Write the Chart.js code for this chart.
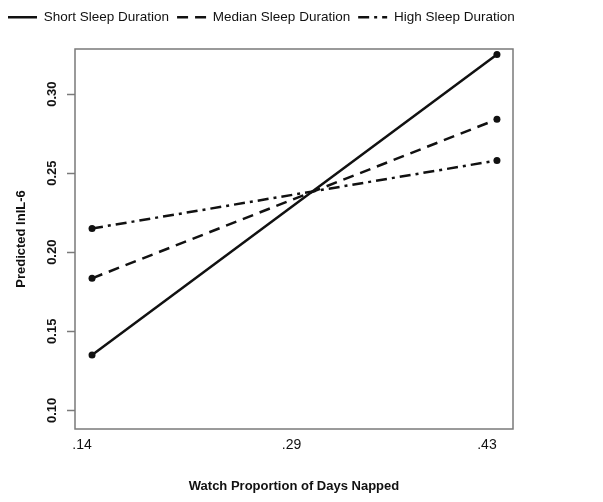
<!DOCTYPE html>
<html>
<head>
<meta charset="utf-8">
<script src="https://cdn.jsdelivr.net/npm/chart.js@4"></script>
<style>
  html, body { margin: 0; padding: 0; background: #fff; }
  #wrap { width: 603px; height: 502px; position: relative; }
</style>
</head>
<body>
<div id="wrap"><canvas id="chart"></canvas></div>
<script>
// values
const xValues = [0.14, 0.43];
const shortSleep = [0.135, 0.325];
const medianSleep = [0.1835, 0.284];
const highSleep = [0.215, 0.258];
const seriesNames = ['Short Sleep Duration', 'Median Sleep Duration', 'High Sleep Duration'];
const xTicks = [0.14, 0.29, 0.43];
const xTickLabels = ['.14', '.29', '.43'];
const yTicks = [0.10, 0.15, 0.20, 0.25, 0.30];

const FONT = '"Liberation Sans", Arial, sans-serif';
const INK = '#111';
const FRAME = '#7a7a7a';

const toPoints = (ys) => ys.map((y, i) => ({ x: xValues[i], y: y }));

const makeSet = (label, ys, dash) => ({
  label: label,
  data: toPoints(ys),
  borderColor: INK,
  backgroundColor: INK,
  borderWidth: 2.5,
  borderDash: dash,
  tension: 0,
  pointRadius: 3.5,
  pointHoverRadius: 3.5,
  pointBackgroundColor: INK,
  pointBorderColor: INK,
  pointBorderWidth: 0,
});

// grey box around the plot area
const frame = {
  id: 'frame',
  afterDraw(chart) {
    const { ctx, chartArea: a } = chart;
    ctx.save();
    ctx.strokeStyle = FRAME;
    ctx.lineWidth = 1.5;
    ctx.strokeRect(a.left, a.top, a.right - a.left, a.bottom - a.top);
    ctx.restore();
  }
};

// legend keys drawn as short line samples with each series' dash
const lineKeys = (chart) => chart.data.datasets.map((ds, i) => ({
  text: ds.label,
  datasetIndex: i,
  hidden: false,
  fontColor: INK,
  fillStyle: 'rgba(0,0,0,0)',
  strokeStyle: ds.borderColor,
  lineWidth: ds.borderWidth,
  lineDash: ds.borderDash,
  lineCap: 'butt',
  pointStyle: 'line',
}));

new Chart(document.getElementById('chart'), {
  type: 'line',
  data: {
    datasets: [
      makeSet(seriesNames[0], shortSleep, []),
      makeSet(seriesNames[1], medianSleep, [11, 7]),
      makeSet(seriesNames[2], highSleep, [11, 5, 3, 5]),
    ],
  },
  options: {
    responsive: true,
    maintainAspectRatio: false,
    animation: false,
    layout: { padding: { left: 0, right: 0, top: 2.5, bottom: 0 } },
    plugins: {
      legend: {
        position: 'top',
        align: 'start',
        weight: 3000,
        labels: {
          usePointStyle: true,
          pointStyleWidth: 29,
          padding: 8,
          color: INK,
          font: { family: FONT, size: 13.5 },
          generateLabels: lineKeys,
        },
      },
      // empty title only keeps a gap between legend and plot
      title: {
        display: true,
        text: ' ',
        padding: 0,
        font: { size: 12.5 },
      },
      tooltip: { enabled: false },
    },
    scales: {
      x: {
        type: 'linear',
        min: 0.1278,
        max: 0.4415,
        afterFit: (s) => { s.height = 73; },
        afterBuildTicks: (s) => { s.ticks = xTicks.map(v => ({ value: v })); },
        grid: { display: false },
        border: { display: false },
        ticks: {
          padding: 0,
          labelOffset: -10,
          maxRotation: 0,
          minRotation: 0,
          color: INK,
          font: { family: FONT, size: 14 },
          callback: (v) => xTickLabels[xTicks.indexOf(v)] ?? '',
        },
        title: {
          display: true,
          text: 'Watch Proportion of Days Napped',
          color: INK,
          padding: { top: 0, bottom: 8 },
          font: { family: FONT, size: 13, weight: 'bold' },
        },
      },
      y: {
        min: 0.0882,
        max: 0.3285,
        afterFit: (s) => { s.width = 75; },
        afterBuildTicks: (s) => { s.ticks = yTicks.map(v => ({ value: v })); },
        grid: {
          drawOnChartArea: false,
          drawTicks: true,
          tickLength: 8,
          tickWidth: 1.5,
          tickColor: FRAME,
        },
        border: { display: false },
        ticks: {
          padding: 2,
          minRotation: 90,
          maxRotation: 90,
          crossAlign: 'center',
          color: INK,
          font: { family: FONT, size: 13, weight: 'bold' },
          callback: (v) => v.toFixed(2),
        },
        title: {
          display: true,
          text: 'Predicted lnIL-6',
          color: INK,
          padding: { top: 14, bottom: 0 },
          font: { family: FONT, size: 13, weight: 'bold' },
        },
      },
      // empty right-hand scale: keeps the white strip on the right
      spacer: {
        type: 'linear',
        position: 'right',
        min: 0,
        max: 1,
        afterFit: (s) => { s.width = 90; },
        grid: { display: false },
        border: { display: false },
        ticks: { display: false },
      },
    },
  },
  plugins: [frame],
});
</script>
</body>
</html>
